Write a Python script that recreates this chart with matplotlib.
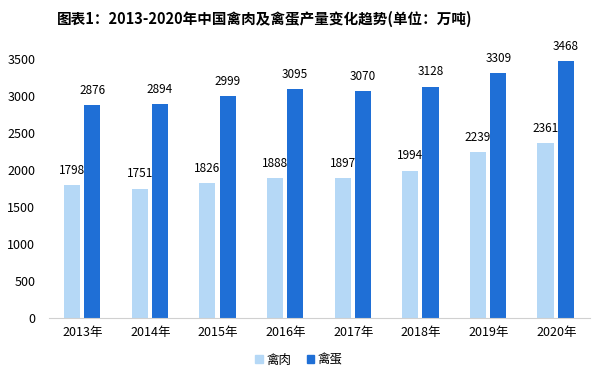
import matplotlib
matplotlib.use("Agg")
import matplotlib.pyplot as plt
import numpy as np
from matplotlib.patches import Patch

plt.rcParams['font.family'] = ['Noto Sans CJK SC', 'DejaVu Sans']

years = ["2013年", "2014年", "2015年", "2016年", "2017年", "2018年", "2019年", "2020年"]
meat = [1798, 1751, 1826, 1888, 1897, 1994, 2239, 2361]
eggs = [2876, 2894, 2999, 3095, 3070, 3128, 3309, 3468]

c_meat = "#b5d8f6"
c_egg = "#1f6fd6"

fig = plt.figure(figsize=(5.98, 3.81), dpi=100)
ax = fig.add_axes([0.082, 0.165, 0.905, 0.68])
x = np.arange(len(years))
w = 0.24
ax.bar(x - 0.16, meat, width=w, color=c_meat)
ax.bar(x + 0.14, eggs, width=w, color=c_egg)
for xi, v in zip(x, meat):
    ax.text(xi - 0.16, v + 110, str(v), ha='center', va='bottom', fontsize=8.5, color='black')
for xi, v in zip(x, eggs):
    ax.text(xi + 0.14, v + 110, str(v), ha='center', va='bottom', fontsize=8.5, color='black')

ax.set_xlim(-0.5, 7.5)
ax.set_ylim(0, 3500)
ax.set_yticks(range(0, 3501, 500))
ax.set_xticks(x)
ax.set_xticklabels(years, fontsize=9)
ax.tick_params(axis='y', labelsize=9, length=0, pad=10)
ax.tick_params(axis='x', length=0, pad=6)
for s in ['top', 'right', 'left']:
    ax.spines[s].set_visible(False)
ax.spines['bottom'].set_color('#d0d0d0')

fig.text(0.442, 0.95, "图表1：2013-2020年中国禽肉及禽蛋产量变化趋势(单位：万吨)",
         ha='center', va='center', fontsize=10.5, fontweight='bold')

handles = [Patch(color=c_meat, label='禽肉'), Patch(color=c_egg, label='禽蛋')]
fig.legend(handles=handles, loc='center', bbox_to_anchor=(0.5, 0.055), ncol=2,
           frameon=False, fontsize=9, handlelength=0.6, handleheight=0.6,
           handletextpad=0.3, columnspacing=1.2)

fig.savefig("out.png", dpi=100)
